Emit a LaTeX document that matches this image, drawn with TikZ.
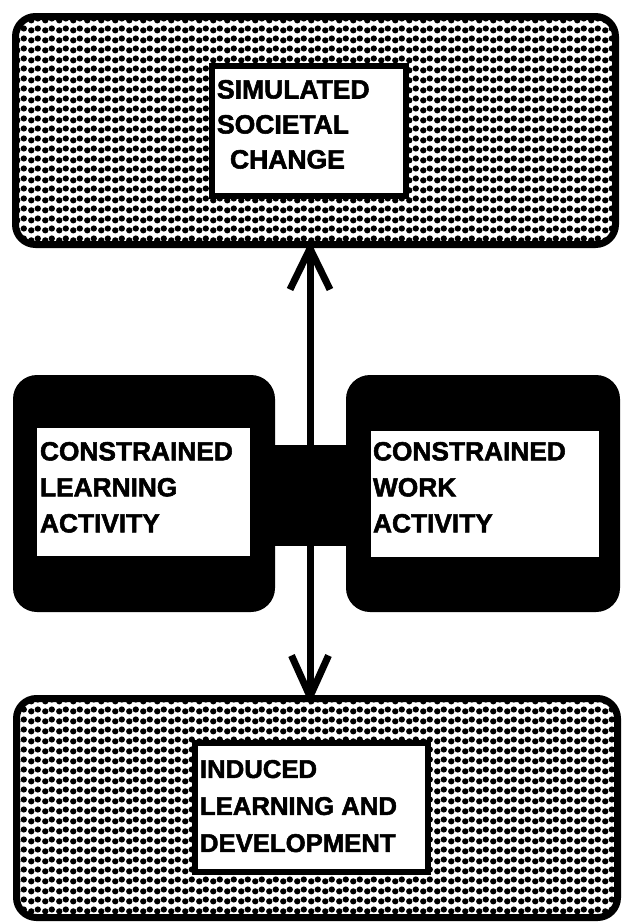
\documentclass[tikz,border=0pt]{standalone}
\usepackage{fontspec}
\setmainfont{Liberation Sans}[BoldFeatures={FakeBold=2}]
\usetikzlibrary{patterns.meta,calc}

% staggered dot screen used for the two outer panels
\tikzdeclarepattern{
  name=wavydots,
  type=uncolored,
  bounding box={(0,0) and (14pt,10pt)},
  tile size={(14pt,10pt)},
  code={
    \fill (3.5pt,4pt) circle [radius=3.4pt];
    \fill (10.5pt,6pt) circle [radius=3.4pt];
  }
}

\tikzset{
  panel/.style={draw=black, line width=7pt, rounded corners=20pt,
    pattern={wavydots}, pattern color=black, inner sep=0pt, outer sep=0pt},
  whitebox/.style={draw=black, fill=white, line width=6pt, inner sep=0pt, outer sep=0pt},
  blackbox/.style={fill=black, rounded corners=24pt, inner sep=0pt, outer sep=0pt},
  plainbox/.style={fill=white, inner sep=0pt, outer sep=0pt},
  bandbox/.style={fill=black, inner sep=0pt, outer sep=0pt},
  labeltext/.style={anchor=north west, align=left, inner sep=0pt, outer sep=0pt},
  shaft/.style={line width=7pt, line cap=butt},
  barb/.style={line width=7pt, line cap=butt, line join=miter},
}

\begin{document}
\begin{tikzpicture}[x=1pt, y=-1pt]
  \useasboundingbox (0,0) rectangle (622,924);
  \fill[white] (0,0) rectangle (622,924);

  % top panel
  \node[panel, minimum width=600pt, minimum height=228pt] (top) at (315.5,130.5) {};
  \node[whitebox, minimum width=194pt, minimum height=130pt] (topw) at (309,131) {};
  \node[labeltext, font=\fontsize{26.5}{35}\selectfont\bfseries] (toptext) at (217,80)
    {SIMULATED\\SOCIETAL\\\hspace*{13pt}CHANGE};

  % middle pair joined by a black band
  \node[bandbox, minimum width=80pt, minimum height=101pt] (band) at (310,495.5) {};
  \node[blackbox, minimum width=262pt, minimum height=237pt] (left) at (144,493.5) {};
  \node[plainbox, minimum width=213pt, minimum height=128pt] (leftw) at (143.5,492) {};
  \node[labeltext, font=\fontsize{26.3}{36}\selectfont\bfseries] (lefttext) at (40,442)
    {CONSTRAINED\\LEARNING\\ACTIVITY};

  \node[blackbox, minimum width=274pt, minimum height=237pt] (right) at (483,493.5) {};
  \node[plainbox, minimum width=228pt, minimum height=126pt] (rightw) at (485,494) {};
  \node[labeltext, font=\fontsize{26.3}{36}\selectfont\bfseries] (righttext) at (373,442)
    {CONSTRAINED\\WORK\\ACTIVITY};

  % bottom panel
  \node[panel, minimum width=601pt, minimum height=219pt] (bot) at (317,808) {};
  \node[whitebox, minimum width=233pt, minimum height=129pt] (botw) at (311.5,807.5) {};
  \node[labeltext, font=\fontsize{25.7}{37}\selectfont\bfseries] (bottext) at (200,760)
    {INDUCED\\LEARNING AND\\DEVELOPMENT};

  % double-headed connector through the band
  \draw[shaft] (top.south -| band.center) -- (bot.north -| band.center);
  \draw[barb] ($(top.south -| band.center)+(-20,45)$) -- ($(top.south -| band.center)+(0,4)$) -- ++(20,41);
  \draw[barb] ($(bot.north -| band.center)+(-18.5,-43)$) -- ($(bot.north -| band.center)+(0,-2)$) -- ++(18.5,-41);
\end{tikzpicture}
\end{document}
